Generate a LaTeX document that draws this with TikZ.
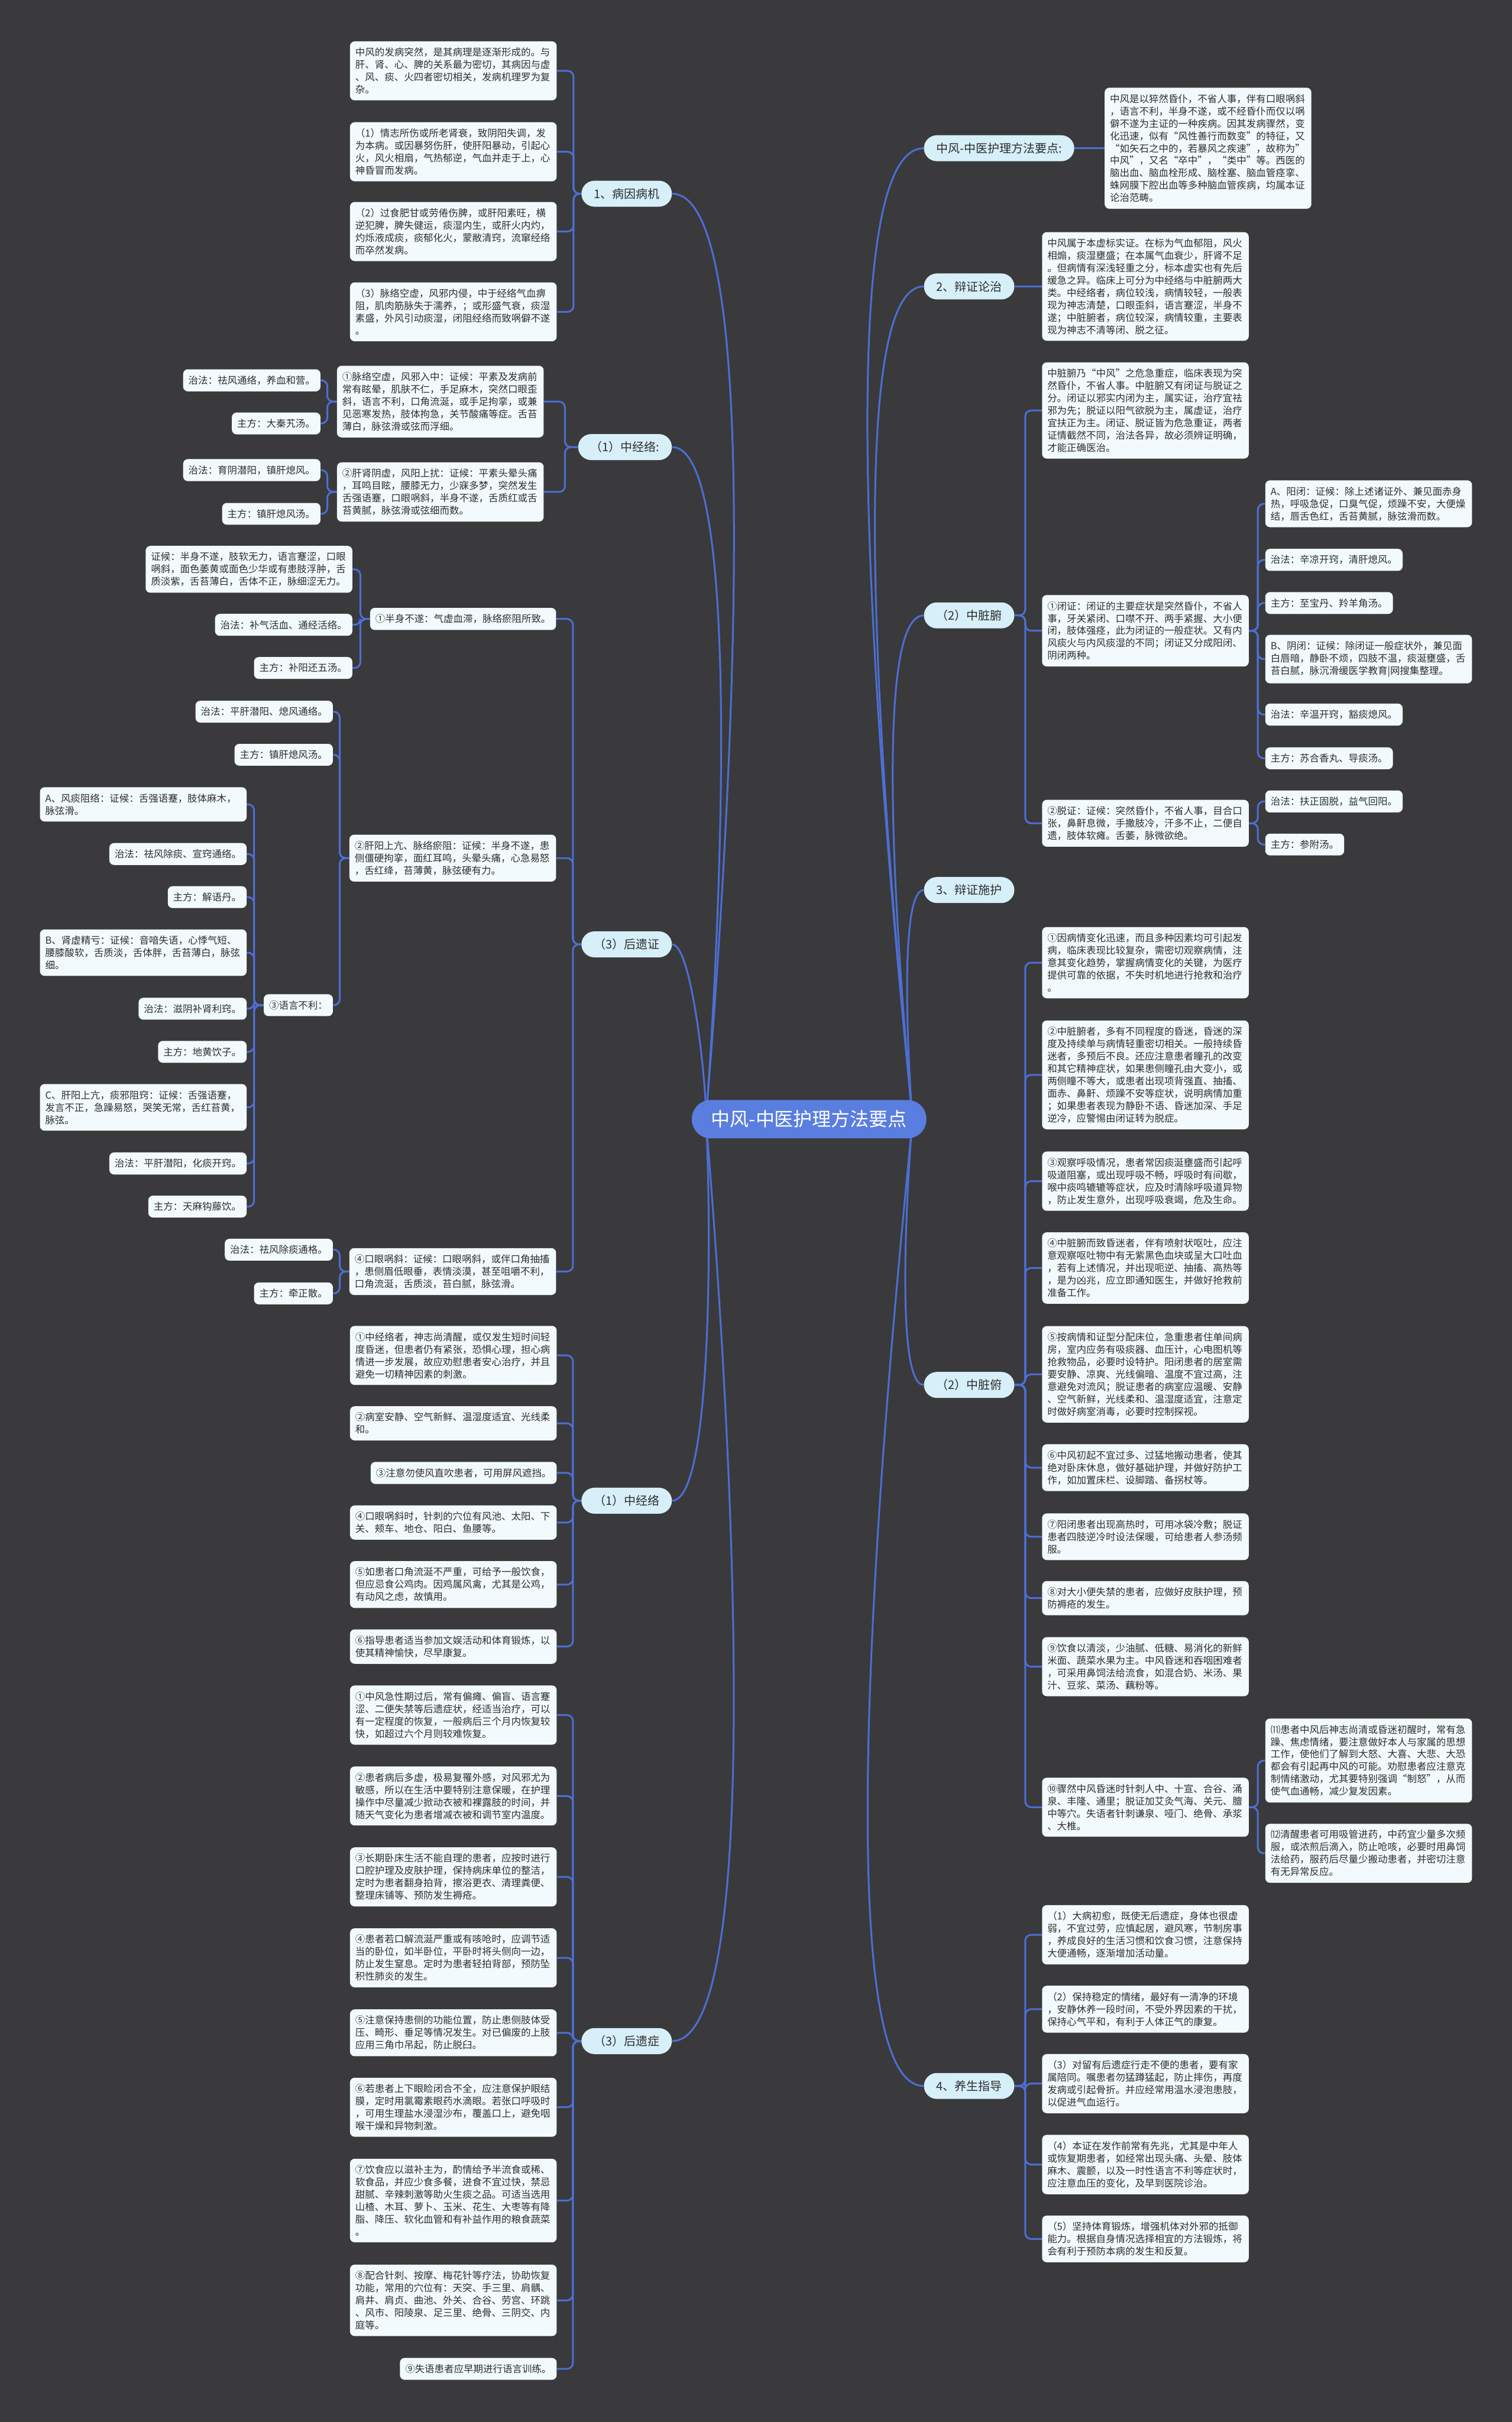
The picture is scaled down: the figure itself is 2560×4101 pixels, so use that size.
\documentclass[tikz,border=0pt]{standalone}
\usepackage{fontspec}
\setmainfont{Noto Sans CJK SC}
\usetikzlibrary{backgrounds}
\definecolor{bgcol}{HTML}{3A3A3C}
\definecolor{linkcol}{HTML}{4C6FD6}
\definecolor{rootcol}{HTML}{5A7EE0}
\definecolor{topiccol}{HTML}{D6EFF9}
\definecolor{leafcol}{HTML}{F2FAFD}
\definecolor{inkcol}{HTML}{2E2E2E}

\begin{document}
\begin{tikzpicture}[x=0.5pt,y=-0.5pt,
    rootnode/.style={fill=rootcol, text=white, rounded corners=16pt, font=\fontsize{16pt}{18pt}\selectfont, inner xsep=16.5pt, minimum height=32.5pt},
    topic/.style={fill=topiccol, text=inkcol, rounded corners=11pt, font=\fontsize{10pt}{12pt}\selectfont, inner xsep=10.5pt, minimum height=22pt},
    leaf/.style={fill=leafcol, text=inkcol, rounded corners=4pt, font=\fontsize{8.25pt}{10.5pt}\selectfont, inner xsep=4.5pt, inner ysep=5.4pt, align=left},
    para/.style={leaf, text width=166pt},
    link/.style={draw=linkcol, line width=1.5pt, rounded corners=5pt}]
  \begin{pgfonlayer}{background}
    \fill[bgcol] (0,0) rectangle (2560,4101);
  \end{pgfonlayer}
  \useasboundingbox (0,0) rectangle (2560,4101);

  \node[rootnode] (root) at (1370,1895) {中风-中医护理方法要点};
  \coordinate (hubR) at (1545,1895);
  \coordinate (hubL) at (1195,1895);

  \node[topic, anchor=west] (r1) at (1564,251) {中风-中医护理方法要点:};
  \node[topic, anchor=west] (r2) at (1564,485) {2、辩证论治};
  \node[topic, anchor=west] (r3) at (1564,1042) {（2）中脏腑};
  \node[topic, anchor=west] (r4) at (1564,1507) {3、辩证施护};
  \node[topic, anchor=west] (r5) at (1564,2345) {（2）中脏俯};
  \node[topic, anchor=west] (r6) at (1564,3532) {4、养生指导};

  \node[topic, anchor=east] (l1) at (1138,328) {1、病因病机};
  \node[topic, anchor=east] (l2) at (1138,757) {（1）中经络:};
  \node[topic, anchor=east] (l3) at (1138,1599) {（3）后遗证};
  \node[topic, anchor=east] (l4) at (1138,2541) {（1）中经络};
  \node[topic, anchor=east] (l5) at (1138,3456) {（3）后遗症};

  \node[para, anchor=west] (r1a) at (1870,251) {中风是以猝然昏仆，不省人事，伴有口眼㖞斜\\，语言不利，半身不遂，或不经昏仆而仅以㖞\\僻不遂为主证的一种疾病。因其发病骤然，变\\化迅速，似有“风性善行而数变”的特征，又\\“如矢石之中的，若暴风之疾速”，故称为”\\中风”，又名“卒中”，“类中”等。西医的\\脑出血、脑血栓形成、脑栓塞、脑血管痉挛、\\蛛网膜下腔出血等多种脑血管疾病，均属本证\\论治范畴。};
  \node[para, anchor=west] (r2a) at (1764,485) {中风属于本虚标实证。在标为气血郁阻，风火\\相煽，痰湿壅盛；在本属气血衰少，肝肾不足\\。但病情有深浅轻重之分，标本虚实也有先后\\缓急之异。临床上可分为中经络与中脏腑两大\\类。中经络者，病位较浅，病情较轻，一般表\\现为神志清楚，口眼歪斜，语言蹇涩，半身不\\遂；中脏腑者，病位较深，病情较重，主要表\\现为神志不清等闭、脱之征。};

  \node[para, anchor=west] (r3a) at (1764,695) {中脏腑乃“中风”之危急重症，临床表现为突\\然昏仆，不省人事。中脏腑又有闭证与脱证之\\分。闭证以邪实内闭为主，属实证，治疗宜祛\\邪为先；脱证以阳气欲脱为主，属虚证，治疗\\宜扶正为主。闭证、脱证皆为危急重证，两者\\证情截然不同，治法各异，故必须辨证明确，\\才能正确医治。};
  \node[para, anchor=west] (r3b) at (1764,1068) {①闭证：闭证的主要症状是突然昏仆，不省人\\事，牙关紧闭、口噤不开、两手紧握、大小便\\闭，肢体强痉，此为闭证的一般症状。又有内\\风痰火与内风痰湿的不同；闭证又分成阳闭、\\阴闭两种。};
  \node[para, anchor=west] (r3c) at (1764,1394) {②脱证：证候：突然昏仆，不省人事，目合口\\张，鼻鼾息微，手撒肢冷，汗多不止，二便自\\遗，肢体软瘫。舌萎，脉微欲绝。};
  \node[para, anchor=west] (r3b1) at (2142,853) {A、阳闭：证候：除上述诸证外、兼见面赤身\\热，呼吸急促，口臭气促，烦躁不安，大便燥\\结，唇舌色红，舌苔黄腻，脉弦滑而数。};
  \node[leaf, anchor=west] (r3b2) at (2142,948) {治法：辛凉开窍，清肝熄风。};
  \node[leaf, anchor=west] (r3b3) at (2142,1021) {主方：至宝丹、羚羊角汤。};
  \node[para, anchor=west] (r3b4) at (2142,1116) {B、阴闭：证候：除闭证一般症状外，兼见面\\白唇暗，静卧不烦，四肢不温，痰涎壅盛，舌\\苔白腻，脉沉滑缓医学教育|网搜集整理。};
  \node[leaf, anchor=west] (r3b5) at (2142,1210) {治法：辛温开窍，豁痰熄风。};
  \node[leaf, anchor=west] (r3b6) at (2142,1284) {主方：苏合香丸、导痰汤。};
  \node[leaf, anchor=west] (r3c1) at (2142,1357) {治法：扶正固脱，益气回阳。};
  \node[leaf, anchor=west] (r3c2) at (2142,1430) {主方：参附汤。};

  \node[para, anchor=west] (r5a) at (1764,1630) {①因病情变化迅速，而且多种因素均可引起发\\病，临床表现比较复杂，需密切观察病情，注\\意其变化趋势，掌握病情变化的关键，为医疗\\提供可靠的依据，不失时机地进行抢救和治疗\\。};
  \node[para, anchor=west] (r5b) at (1764,1820) {②中脏腑者，多有不同程度的昏迷，昏迷的深\\度及持续单与病情轻重密切相关。一般持续昏\\迷者，多预后不良。还应注意患者瞳孔的改变\\和其它精神症状，如果患侧瞳孔由大变小，或\\两侧瞳不等大，或患者出现项背强直、抽搐、\\面赤、鼻鼾、烦躁不安等症状，说明病情加重\\；如果患者表现为静卧不语、昏迷加深、手足\\逆冷，应警惕由闭证转为脱症。};
  \node[para, anchor=west] (r5c) at (1764,2000) {③观察呼吸情况，患者常因痰涎壅盛而引起呼\\吸道阻塞，或出现呼吸不畅，呼吸时有间歇，\\喉中痰鸣辘辘等症状，应及时清除呼吸道异物\\，防止发生意外，出现呼吸衰竭，危及生命。};
  \node[para, anchor=west] (r5d) at (1764,2147) {④中脏腑而致昏迷者，伴有喷射状呕吐，应注\\意观察呕吐物中有无紫黑色血块或呈大口吐血\\，若有上述情况，并出现呃逆、抽搐、高热等\\，是为凶兆，应立即通知医生，并做好抢救前\\准备工作。};
  \node[para, anchor=west] (r5e) at (1764,2327) {⑤按病情和证型分配床位，急重患者住单间病\\房，室内应务有吸痰器、血压计，心电图机等\\抢救物品，必要时设特护。阳闭患者的居室需\\要安静、凉爽、光线偏暗、温度不宜过高，注\\意避免对流风；脱证患者的病室应温暖、安静\\、空气新鲜，光线柔和、温湿度适宜，注意定\\时做好病室消毒，必要时控制探视。};
  \node[para, anchor=west] (r5f) at (1764,2485) {⑥中风初起不宜过多、过猛地搬动患者，使其\\绝对卧床休息，做好基础护理，并做好防护工\\作，如加置床栏、设脚踏、备拐杖等。};
  \node[para, anchor=west] (r5g) at (1764,2602) {⑦阳闭患者出现高热时，可用冰袋冷敷；脱证\\患者四肢逆冷时设法保暖，可给患者人参汤频\\服。};
  \node[para, anchor=west] (r5h) at (1764,2706) {⑧对大小便失禁的患者，应做好皮肤护理，预\\防褥疮的发生。};
  \node[para, anchor=west] (r5i) at (1764,2822) {⑨饮食以清淡，少油腻、低糖、易消化的新鲜\\米面、蔬菜水果为主。中风昏迷和吞咽困难者\\，可采用鼻饲法给流食，如混合奶、米汤、果\\汁、豆浆、菜汤、藕粉等。};
  \node[para, anchor=west] (r5j) at (1764,3060) {⑩骤然中风昏迷时针刺人中、十宣、合谷、涌\\泉、丰隆、通里；脱证加艾灸气海、关元、膻\\中等穴。失语者针刺谦泉、哑门、绝骨、承浆\\、大椎。};
  \node[para, anchor=west] (r5j1) at (2142,2981) {⑾患者中风后神志尚清或昏迷初醒时，常有急\\躁、焦虑情绪，要注意做好本人与家属的思想\\工作，使他们了解到大怒、大喜、大悲、大恐\\都会有引起再中风的可能。劝慰患者应注意克\\制情绪激动，尤其要特别强调“制怒”，从而\\使气血通畅，减少复发因素。};
  \node[para, anchor=west] (r5j2) at (2142,3138) {⑿清醒患者可用吸管进药，中药宜少量多次频\\服，或浓煎后滴入，防止呛咳，必要时用鼻饲\\法给药，服药后尽量少搬动患者，并密切注意\\有无异常反应。};

  \node[para, anchor=west] (r6a) at (1764,3276) {（1）大病初愈，既使无后遗症，身体也很虚\\弱，不宜过劳，应慎起居，避风寒，节制房事\\，养成良好的生活习惯和饮食习惯，注意保持\\大便通畅，逐渐增加活动量。};
  \node[para, anchor=west] (r6b) at (1764,3402) {（2）保持稳定的情绪，最好有一清净的环境\\，安静休养一段时间，不受外界因素的干扰，\\保持心气平和，有利于人体正气的康复。};
  \node[para, anchor=west] (r6c) at (1764,3528) {（3）对留有后遗症行走不便的患者，要有家\\属陪同。嘱患者勿猛蹲猛起，防止摔伤，再度\\发病或引起骨折。并应经常用温水浸泡患肢，\\以促进气血运行。};
  \node[para, anchor=west] (r6d) at (1764,3665) {（4）本证在发作前常有先兆，尤其是中年人\\或恢复期患者，如经常出现头痛、头晕、肢体\\麻木、震颤，以及一时性语言不利等症状时，\\应注意血压的变化，及早到医院诊治。};
  \node[para, anchor=west] (r6e) at (1764,3791) {（5）坚持体育锻炼，增强机体对外邪的抵御\\能力。根据自身情况选择相宜的方法锻炼，将\\会有利于预防本病的发生和反复。};

  \node[para, anchor=east] (l1a) at (943,120) {中风的发病突然，是其病理是逐渐形成的。与\\肝、肾、心、脾的关系最为密切，其病因与虚\\、风、痰、火四者密切相关，发病机理罗为复\\杂。};
  \node[para, anchor=east] (l1b) at (943,257) {（1）情志所伤或所老肾衰，致阴阳失调，发\\为本病。或因暴努伤肝，使肝阳暴动，引起心\\火，风火相扇，气热郁逆，气血并走于上，心\\神昏冒而发病。};
  \node[para, anchor=east] (l1c) at (943,392) {（2）过食肥甘或劳倦伤脾，或肝阳素旺，横\\逆犯脾，脾失健运，痰湿内生，或肝火内灼，\\灼烁液成痰，痰郁化火，蒙敝清窍，流窜经络\\而卒然发病。};
  \node[para, anchor=east] (l1d) at (943,528) {（3）脉络空虚，风邪内侵，中于经络气血痹\\阻，肌肉筋脉失于濡养，；或形盛气衰，痰湿\\素盛，外风引动痰湿，闭阻经络而致㖞僻不遂\\。};

  \node[para, anchor=east] (l2a) at (921,680) {①脉络空虚，风邪入中：证候：平素及发病前\\常有眩晕，肌肤不仁，手足麻木，突然口眼歪\\斜，语言不利，口角流涎，或手足拘挛，或兼\\见恶寒发热，肢体拘急，关节酸痛等症。舌苔\\薄白，脉弦滑或弦而浮细。};
  \node[leaf, anchor=east] (l2a1) at (543,644) {治法：祛风通络，养血和营。};
  \node[leaf, anchor=east] (l2a2) at (543,717) {主方：大秦艽汤。};
  \node[para, anchor=east] (l2b) at (921,833) {②肝肾阴虚，风阳上扰：证候：平素头晕头痛\\，耳鸣目眩，腰膝无力，少寐多梦，突然发生\\舌强语蹇，口眼㖞斜，半身不遂，舌质红或舌\\苔黄腻，脉弦滑或弦细而数。};
  \node[leaf, anchor=east] (l2b1) at (543,796) {治法：育阴潜阳，镇肝熄风。};
  \node[leaf, anchor=east] (l2b2) at (543,870) {主方：镇肝熄风汤。};

  \node[leaf, anchor=east] (l3a) at (942,1048) {①半身不遂：气虚血滞，脉络瘀阻所致。};
  \node[para, anchor=east] (l3a1) at (597,964) {证候：半身不遂，肢软无力，语言蹇涩，口眼\\㖞斜，面色萎黄或面色少华或有患肢浮肿，舌\\质淡紫，舌苔薄白，舌体不正，脉细涩无力。};
  \node[leaf, anchor=east] (l3a2) at (597,1058) {治法：补气活血、通经活络。};
  \node[leaf, anchor=east] (l3a3) at (597,1131) {主方：补阳还五汤。};
  \node[para, anchor=east] (l3b) at (942,1453) {②肝阳上亢、脉络瘀阻：证候：半身不遂，患\\侧僵硬拘挛，面红耳鸣，头晕头痛，心急易怒\\，舌红绛，苔薄黄，脉弦硬有力。};
  \node[leaf, anchor=east] (l3b1) at (564,1205) {治法：平肝潜阳、熄风通络。};
  \node[leaf, anchor=east] (l3b2) at (564,1278) {主方：镇肝熄风汤。};
  \node[leaf, anchor=east] (l3c) at (564,1702) {③语言不利：};
  \node[para, anchor=east] (l3c1) at (418,1362) {A、风痰阻络：证候：舌强语蹇，肢体麻木，\\脉弦滑。};
  \node[leaf, anchor=east] (l3c2) at (418,1446) {治法：祛风除痰、宣窍通络。};
  \node[leaf, anchor=east] (l3c3) at (418,1519) {主方：解语丹。};
  \node[para, anchor=east] (l3c4) at (418,1613) {B、肾虚精亏：证候：音喑失语，心悸气短、\\腰膝酸软，舌质淡，舌体胖，舌苔薄白，脉弦\\细。};
  \node[leaf, anchor=east] (l3c5) at (418,1708) {治法：滋阴补肾利窍。};
  \node[leaf, anchor=east] (l3c6) at (418,1781) {主方：地黄饮子。};
  \node[para, anchor=east] (l3c7) at (418,1875) {C、肝阳上亢，痰邪阻窍：证候：舌强语蹇，\\发言不正，急躁易怒，哭笑无常，舌红苔黄，\\脉弦。};
  \node[leaf, anchor=east] (l3c8) at (418,1970) {治法：平肝潜阳，化痰开窍。};
  \node[leaf, anchor=east] (l3c9) at (418,2043) {主方：天麻钩藤饮。};
  \node[para, anchor=east] (l3d) at (942,2153) {④口眼㖞斜：证候：口眼㖞斜，或伴口角抽搐\\，患侧眉低眼垂，表情淡漠，甚至咀嚼不利，\\口角流涎，舌质淡，苔白腻，脉弦滑。};
  \node[leaf, anchor=east] (l3d1) at (564,2116) {治法：祛风除痰通格。};
  \node[leaf, anchor=east] (l3d2) at (564,2190) {主方：牵正散。};

  \node[para, anchor=east] (l4a) at (943,2295) {①中经络者，神志尚清醒，或仅发生短时间轻\\度昏迷，但患者仍有紧张，恐惧心理，担心病\\情进一步发展，故应劝慰患者安心治疗，并且\\避免一切精神因素的刺激。};
  \node[para, anchor=east] (l4b) at (943,2410) {②病室安静、空气新鲜、温湿度适宜、光线柔\\和。};
  \node[leaf, anchor=east] (l4c) at (943,2494) {③注意勿使风直吹患者，可用屏风遮挡。};
  \node[para, anchor=east] (l4d) at (943,2578) {④口眼㖞斜时，针刺的穴位有风池、太阳、下\\关、颊车、地仓、阳白、鱼腰等。};
  \node[para, anchor=east] (l4e) at (943,2683) {⑤如患者口角流涎不严重，可给予一般饮食，\\但应忌食公鸡肉。因鸡属风禽，尤其是公鸡，\\有动风之虑，故慎用。};
  \node[para, anchor=east] (l4f) at (943,2788) {⑥指导患者适当参加文娱活动和体育锻炼，以\\使其精神愉快，尽早康复。};

  \node[para, anchor=east] (l5a) at (943,2904) {①中风急性期过后，常有偏瘫、偏盲、语言蹇\\涩、二便失禁等后遗症状，经适当治疗，可以\\有一定程度的恢复，一般病后三个月内恢复较\\快，如超过六个月则较难恢复。};
  \node[para, anchor=east] (l5b) at (943,3041) {②患者病后多虚，极易复罹外感，对风邪尤为\\敏感，所以在生活中要特别注意保暖，在护理\\操作中尽量减少掀动衣被和裸露肢的时间，并\\随天气变化为患者增减衣被和调节室内温度。};
  \node[para, anchor=east] (l5c) at (943,3178) {③长期卧床生活不能自理的患者，应按时进行\\口腔护理及皮肤护理，保持病床单位的整洁，\\定时为患者翻身拍背，擦浴更衣、清理粪便、\\整理床铺等、预防发生褥疮。};
  \node[para, anchor=east] (l5d) at (943,3315) {④患者若口解流涎严重或有咳呛时，应调节适\\当的卧位，如半卧位，平卧时将头侧向一边，\\防止发生窒息。定时为患者轻拍背部，预防坠\\积性肺炎的发生。};
  \node[para, anchor=east] (l5e) at (943,3442) {⑤注意保持患侧的功能位置，防止患侧肢体受\\压、畸形、垂足等情况发生。对已偏废的上肢\\应用三角巾吊起，防止脱臼。};
  \node[para, anchor=east] (l5f) at (943,3568) {⑥若患者上下眼睑闭合不全，应注意保护眼结\\膜，定时用氯霉素眼药水滴眼。若张口呼吸时\\，可用生理盐水浸湿沙布，覆盖口上，避免咽\\喉干燥和异物刺激。};
  \node[para, anchor=east] (l5g) at (943,3726) {⑦饮食应以滋补主为，酌情给予半流食或稀、\\软食品，并应少食多餐，进食不宜过快，禁忌\\甜腻、辛辣刺激等助火生痰之品。可适当选用\\山楂、木耳、萝卜、玉米、花生、大枣等有降\\脂、降压、软化血管和有补益作用的粮食蔬菜\\。};
  \node[para, anchor=east] (l5h) at (943,3895) {⑧配合针刺、按摩、梅花针等疗法，协助恢复\\功能，常用的穴位有：天突、手三里、肩髃、\\肩井、肩贞、曲池、外关、合谷、劳宫、环跳\\、风市、阳陵泉、足三里、绝骨、三阴交、内\\庭等。};
  \node[leaf, anchor=east] (l5i) at (943,4011) {⑨失语患者应早期进行语言训练。};

  \begin{pgfonlayer}{background}
    \draw[link] (hubR) to[out=95, in=180, looseness=0.3] (r1.west);
    \draw[link] (hubR) to[out=95, in=180, looseness=0.3] (r2.west);
    \draw[link] (hubR) to[out=95, in=180, looseness=0.3] (r3.west);
    \draw[link] (hubR) to[out=95, in=180, looseness=0.3] (r4.west);
    \draw[link] (hubR) to[out=265, in=180, looseness=0.3] (r5.west);
    \draw[link] (hubR) to[out=265, in=180, looseness=0.3] (r6.west);
    \draw[link] (hubL) to[out=85, in=0, looseness=0.3] (l1.east);
    \draw[link] (hubL) to[out=85, in=0, looseness=0.3] (l2.east);
    \draw[link] (hubL) to[out=85, in=0, looseness=0.3] (l3.east);
    \draw[link] (hubL) to[out=275, in=0, looseness=0.3] (l4.east);
    \draw[link] (hubL) to[out=275, in=0, looseness=0.3] (l5.east);

    \draw[link] (r1.east) -- (r1a.west);
    \draw[link] (r2.east) -- (r2a.west);
    \draw[link] (r3.east) -- ++(18,0) |- (r3a.west);
    \draw[link] (r3.east) -- ++(18,0) |- (r3b.west);
    \draw[link] (r3.east) -- ++(18,0) |- (r3c.west);
    \draw[link] (r3b.east) -- ++(15,0) |- (r3b1.west);
    \draw[link] (r3b.east) -- ++(15,0) |- (r3b2.west);
    \draw[link] (r3b.east) -- ++(15,0) |- (r3b3.west);
    \draw[link] (r3b.east) -- ++(15,0) |- (r3b4.west);
    \draw[link] (r3b.east) -- ++(15,0) |- (r3b5.west);
    \draw[link] (r3b.east) -- ++(15,0) |- (r3b6.west);
    \draw[link] (r3c.east) -- ++(15,0) |- (r3c1.west);
    \draw[link] (r3c.east) -- ++(15,0) |- (r3c2.west);
    \draw[link] (r5.east) -- ++(18,0) |- (r5a.west);
    \draw[link] (r5.east) -- ++(18,0) |- (r5b.west);
    \draw[link] (r5.east) -- ++(18,0) |- (r5c.west);
    \draw[link] (r5.east) -- ++(18,0) |- (r5d.west);
    \draw[link] (r5.east) -- ++(18,0) |- (r5e.west);
    \draw[link] (r5.east) -- ++(18,0) |- (r5f.west);
    \draw[link] (r5.east) -- ++(18,0) |- (r5g.west);
    \draw[link] (r5.east) -- ++(18,0) |- (r5h.west);
    \draw[link] (r5.east) -- ++(18,0) |- (r5i.west);
    \draw[link] (r5.east) -- ++(18,0) |- (r5j.west);
    \draw[link] (r5j.east) -- ++(15,0) |- (r5j1.west);
    \draw[link] (r5j.east) -- ++(15,0) |- (r5j2.west);
    \draw[link] (r6.east) -- ++(18,0) |- (r6a.west);
    \draw[link] (r6.east) -- ++(18,0) |- (r6b.west);
    \draw[link] (r6.east) -- ++(18,0) |- (r6c.west);
    \draw[link] (r6.east) -- ++(18,0) |- (r6d.west);
    \draw[link] (r6.east) -- ++(18,0) |- (r6e.west);

    \draw[link] (l1.west) -- ++(-13,0) |- (l1a.east);
    \draw[link] (l1.west) -- ++(-13,0) |- (l1b.east);
    \draw[link] (l1.west) -- ++(-13,0) |- (l1c.east);
    \draw[link] (l1.west) -- ++(-13,0) |- (l1d.east);
    \draw[link] (l2.west) -- ++(-22,0) |- (l2a.east);
    \draw[link] (l2.west) -- ++(-22,0) |- (l2b.east);
    \draw[link] (l2a.west) -- ++(-16,0) |- (l2a1.east);
    \draw[link] (l2a.west) -- ++(-16,0) |- (l2a2.east);
    \draw[link] (l2b.west) -- ++(-16,0) |- (l2b1.east);
    \draw[link] (l2b.west) -- ++(-16,0) |- (l2b2.east);
    \draw[link] (l3.west) -- ++(-14,0) |- (l3a.east);
    \draw[link] (l3.west) -- ++(-14,0) |- (l3b.east);
    \draw[link] (l3.west) -- ++(-14,0) |- (l3d.east);
    \draw[link] (l3a.west) -- ++(-16,0) |- (l3a1.east);
    \draw[link] (l3a.west) -- ++(-16,0) |- (l3a2.east);
    \draw[link] (l3a.west) -- ++(-16,0) |- (l3a3.east);
    \draw[link] (l3b.west) -- ++(-16,0) |- (l3b1.east);
    \draw[link] (l3b.west) -- ++(-16,0) |- (l3b2.east);
    \draw[link] (l3b.west) -- ++(-16,0) |- (l3c.east);
    \draw[link] (l3c.west) -- ++(-16,0) |- (l3c1.east);
    \draw[link] (l3c.west) -- ++(-16,0) |- (l3c2.east);
    \draw[link] (l3c.west) -- ++(-16,0) |- (l3c3.east);
    \draw[link] (l3c.west) -- ++(-16,0) |- (l3c4.east);
    \draw[link] (l3c.west) -- ++(-16,0) |- (l3c5.east);
    \draw[link] (l3c.west) -- ++(-16,0) |- (l3c6.east);
    \draw[link] (l3c.west) -- ++(-16,0) |- (l3c7.east);
    \draw[link] (l3c.west) -- ++(-16,0) |- (l3c8.east);
    \draw[link] (l3c.west) -- ++(-16,0) |- (l3c9.east);
    \draw[link] (l3d.west) -- ++(-16,0) |- (l3d1.east);
    \draw[link] (l3d.west) -- ++(-16,0) |- (l3d2.east);
    \draw[link] (l4.west) -- ++(-14,0) |- (l4a.east);
    \draw[link] (l4.west) -- ++(-14,0) |- (l4b.east);
    \draw[link] (l4.west) -- ++(-14,0) |- (l4c.east);
    \draw[link] (l4.west) -- ++(-14,0) |- (l4d.east);
    \draw[link] (l4.west) -- ++(-14,0) |- (l4e.east);
    \draw[link] (l4.west) -- ++(-14,0) |- (l4f.east);
    \draw[link] (l5.west) -- ++(-14,0) |- (l5a.east);
    \draw[link] (l5.west) -- ++(-14,0) |- (l5b.east);
    \draw[link] (l5.west) -- ++(-14,0) |- (l5c.east);
    \draw[link] (l5.west) -- ++(-14,0) |- (l5d.east);
    \draw[link] (l5.west) -- ++(-14,0) |- (l5e.east);
    \draw[link] (l5.west) -- ++(-14,0) |- (l5f.east);
    \draw[link] (l5.west) -- ++(-14,0) |- (l5g.east);
    \draw[link] (l5.west) -- ++(-14,0) |- (l5h.east);
    \draw[link] (l5.west) -- ++(-14,0) |- (l5i.east);
  \end{pgfonlayer}
\end{tikzpicture}
\end{document}
